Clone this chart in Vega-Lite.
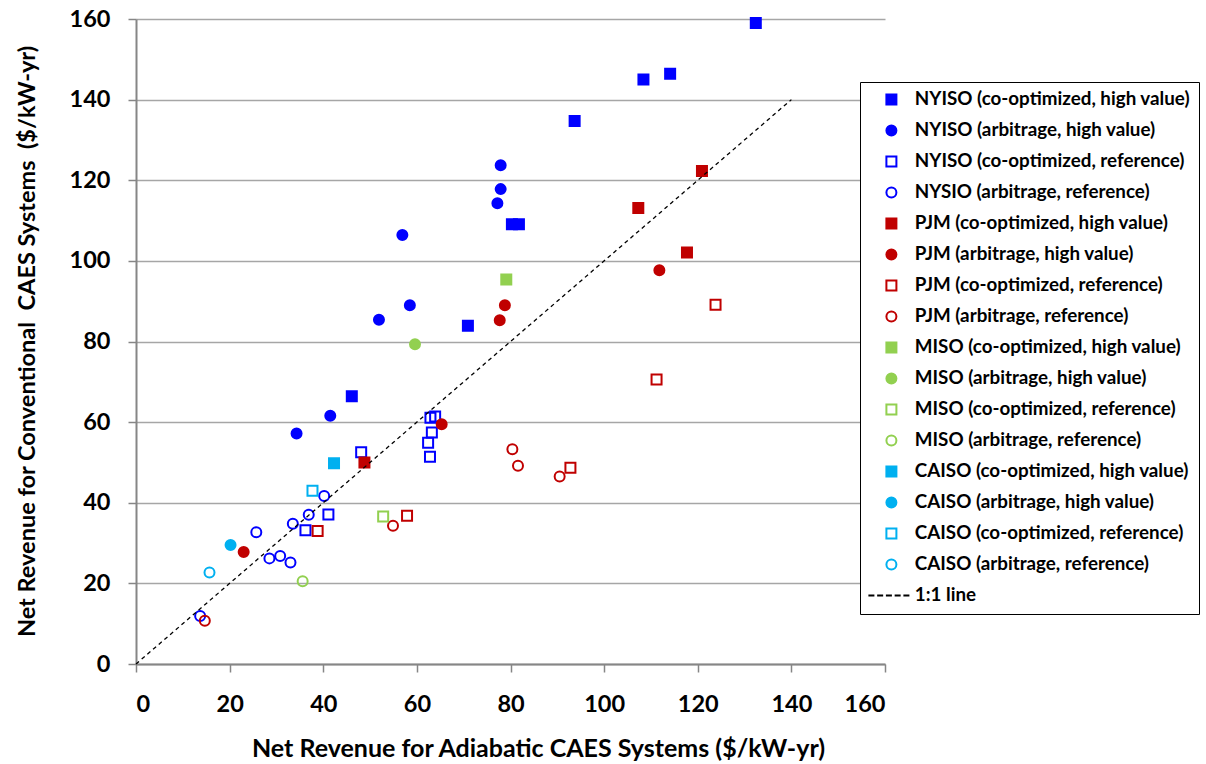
{
  "$schema": "https://vega.github.io/schema/vega-lite/v6.json",
  "width": 749,
  "height": 645,
  "autosize": {"type": "none"},
  "padding": {"left": 136, "top": 19, "right": 321, "bottom": 100},
  "background": "white",
  "config": {
    "font": "Lato",
    "view": {"stroke": null},
    "axis": {
      "labelFont": "Lato",
      "labelFontSize": 23.5,
      "labelFontWeight": "bold",
      "labelColor": "black",
      "titleFont": "Lato",
      "titleFontWeight": "bold",
      "titleColor": "black",
      "domainColor": "#868686",
      "domainWidth": 2,
      "tickColor": "#868686",
      "tickWidth": 1.5,
      "tickSize": 8,
      "gridColor": "#a6a6a6",
      "gridWidth": 1.3
    }
  },
  "datasets": {
    "pts": [
      {"a": 46.1, "c": 66.4, "s": "NYISO (co-optimized, high value)"},
      {"a": 70.9, "c": 83.9, "s": "NYISO (co-optimized, high value)"},
      {"a": 80.3, "c": 109.1, "s": "NYISO (co-optimized, high value)"},
      {"a": 81.8, "c": 109.1, "s": "NYISO (co-optimized, high value)"},
      {"a": 93.7, "c": 134.7, "s": "NYISO (co-optimized, high value)"},
      {"a": 108.4, "c": 145.0, "s": "NYISO (co-optimized, high value)"},
      {"a": 114.1, "c": 146.4, "s": "NYISO (co-optimized, high value)"},
      {"a": 132.4, "c": 159.0, "s": "NYISO (co-optimized, high value)"},
      {"a": 34.3, "c": 57.2, "s": "NYISO (arbitrage, high value)"},
      {"a": 41.5, "c": 61.6, "s": "NYISO (arbitrage, high value)"},
      {"a": 51.9, "c": 85.4, "s": "NYISO (arbitrage, high value)"},
      {"a": 58.5, "c": 89.0, "s": "NYISO (arbitrage, high value)"},
      {"a": 56.9, "c": 106.4, "s": "NYISO (arbitrage, high value)"},
      {"a": 77.2, "c": 114.3, "s": "NYISO (arbitrage, high value)"},
      {"a": 77.9, "c": 117.8, "s": "NYISO (arbitrage, high value)"},
      {"a": 77.9, "c": 123.7, "s": "NYISO (arbitrage, high value)"},
      {"a": 48.1, "c": 52.5, "s": "NYISO (co-optimized, reference)"},
      {"a": 41.1, "c": 37.1, "s": "NYISO (co-optimized, reference)"},
      {"a": 36.2, "c": 33.2, "s": "NYISO (co-optimized, reference)"},
      {"a": 62.9, "c": 61.1, "s": "NYISO (co-optimized, reference)"},
      {"a": 63.9, "c": 61.4, "s": "NYISO (co-optimized, reference)"},
      {"a": 63.2, "c": 57.4, "s": "NYISO (co-optimized, reference)"},
      {"a": 62.4, "c": 54.9, "s": "NYISO (co-optimized, reference)"},
      {"a": 62.8, "c": 51.4, "s": "NYISO (co-optimized, reference)"},
      {"a": 40.2, "c": 41.7, "s": "NYSIO (arbitrage, reference)"},
      {"a": 36.9, "c": 37.0, "s": "NYSIO (arbitrage, reference)"},
      {"a": 33.5, "c": 34.8, "s": "NYSIO (arbitrage, reference)"},
      {"a": 25.7, "c": 32.7, "s": "NYSIO (arbitrage, reference)"},
      {"a": 28.5, "c": 26.2, "s": "NYSIO (arbitrage, reference)"},
      {"a": 30.8, "c": 26.8, "s": "NYSIO (arbitrage, reference)"},
      {"a": 33.0, "c": 25.2, "s": "NYSIO (arbitrage, reference)"},
      {"a": 13.7, "c": 11.9, "s": "NYSIO (arbitrage, reference)"},
      {"a": 48.8, "c": 50.0, "s": "PJM (co-optimized, high value)"},
      {"a": 107.3, "c": 113.1, "s": "PJM (co-optimized, high value)"},
      {"a": 117.7, "c": 102.1, "s": "PJM (co-optimized, high value)"},
      {"a": 120.9, "c": 122.3, "s": "PJM (co-optimized, high value)"},
      {"a": 23.0, "c": 27.8, "s": "PJM (arbitrage, high value)"},
      {"a": 65.3, "c": 59.5, "s": "PJM (arbitrage, high value)"},
      {"a": 77.7, "c": 85.3, "s": "PJM (arbitrage, high value)"},
      {"a": 78.8, "c": 89.0, "s": "PJM (arbitrage, high value)"},
      {"a": 111.8, "c": 97.7, "s": "PJM (arbitrage, high value)"},
      {"a": 38.8, "c": 33.0, "s": "PJM (co-optimized, reference)"},
      {"a": 57.9, "c": 36.8, "s": "PJM (co-optimized, reference)"},
      {"a": 92.8, "c": 48.7, "s": "PJM (co-optimized, reference)"},
      {"a": 111.2, "c": 70.6, "s": "PJM (co-optimized, reference)"},
      {"a": 123.8, "c": 89.1, "s": "PJM (co-optimized, reference)"},
      {"a": 14.7, "c": 10.7, "s": "PJM (arbitrage, reference)"},
      {"a": 54.9, "c": 34.3, "s": "PJM (arbitrage, reference)"},
      {"a": 80.4, "c": 53.3, "s": "PJM (arbitrage, reference)"},
      {"a": 81.6, "c": 49.2, "s": "PJM (arbitrage, reference)"},
      {"a": 90.5, "c": 46.5, "s": "PJM (arbitrage, reference)"},
      {"a": 79.1, "c": 95.4, "s": "MISO (co-optimized, high value)"},
      {"a": 59.6, "c": 79.3, "s": "MISO (arbitrage, high value)"},
      {"a": 52.8, "c": 36.6, "s": "MISO (co-optimized, reference)"},
      {"a": 35.6, "c": 20.5, "s": "MISO (arbitrage, reference)"},
      {"a": 42.3, "c": 49.8, "s": "CAISO (co-optimized, high value)"},
      {"a": 20.2, "c": 29.5, "s": "CAISO (arbitrage, high value)"},
      {"a": 37.7, "c": 43.0, "s": "CAISO (co-optimized, reference)"},
      {"a": 15.7, "c": 22.7, "s": "CAISO (arbitrage, reference)"}
    ],
    "line": [
      {"a": 0, "c": 0},
      {"a": 140, "c": 140}
    ]
  },
  "layer": [
    {
      "data": {"name": "pts"},
      "mark": {"type": "point", "filled": false, "size": 100, "strokeWidth": 2, "opacity": 1, "fillOpacity": 1},
      "encoding": {
        "x": {
          "field": "a", "type": "quantitative",
          "scale": {"domain": [0, 160], "nice": false, "zero": true},
          "axis": {
            "title": "Net Revenue for Adiabatic CAES Systems ($/kW-yr)",
            "values": [0, 20, 40, 60, 80, 100, 120, 140, 160],
            "grid": false,
            "labelPadding": 20,
            "titleFontSize": 25,
            "titleX": 402,
            "titleY": 84,
            "titleAlign": "center",
            "titleBaseline": "middle",
            "titleAnchor": null
          }
        },
        "y": {
          "field": "c", "type": "quantitative",
          "scale": {"domain": [0, 160], "nice": false, "zero": true},
          "axis": {
            "title": "Net Revenue for Conventional\u00a0 CAES Systems\u00a0 ($/kW-yr)",
            "values": [0, 20, 40, 60, 80, 100, 120, 140, 160],
            "grid": true,
            "labelPadding": 18,
            "titleFontSize": 23.5,
            "titleX": -109,
            "titleY": 322,
            "titleAngle": 270,
            "titleAlign": "center",
            "titleBaseline": "middle"
          }
        },
        "stroke": {
          "field": "s", "type": "nominal",
          "scale": {
            "domain": ["NYISO (co-optimized, high value)", "NYISO (arbitrage, high value)", "NYISO (co-optimized, reference)", "NYSIO (arbitrage, reference)", "PJM (co-optimized, high value)", "PJM (arbitrage, high value)", "PJM (co-optimized, reference)", "PJM (arbitrage, reference)", "MISO (co-optimized, high value)", "MISO (arbitrage, high value)", "MISO (co-optimized, reference)", "MISO (arbitrage, reference)", "CAISO (co-optimized, high value)", "CAISO (arbitrage, high value)", "CAISO (co-optimized, reference)", "CAISO (arbitrage, reference)", "1:1 line"],
            "range": ["#0000ff", "#0000ff", "#0000ff", "#0000ff", "#c00000", "#c00000", "#c00000", "#c00000", "#92d050", "#92d050", "#92d050", "#92d050", "#00b0f0", "#00b0f0", "#00b0f0", "#00b0f0", "#000000"]
          },
          "legend": {"title": null, "orient": "none", "legendX": 724, "legendY": 63, "fillColor": "white", "strokeColor": "black", "padding": 8, "symbolOffset": 14, "labelOffset": 14, "labelFont": "Lato", "labelFontSize": 18.8, "labelFontWeight": "bold", "labelColor": "black", "labelLimit": 400, "rowPadding": 11, "symbolSize": 100, "symbolStrokeWidth": 2}
        },
        "fill": {
          "field": "s", "type": "nominal",
          "scale": {
            "domain": ["NYISO (co-optimized, high value)", "NYISO (arbitrage, high value)", "NYISO (co-optimized, reference)", "NYSIO (arbitrage, reference)", "PJM (co-optimized, high value)", "PJM (arbitrage, high value)", "PJM (co-optimized, reference)", "PJM (arbitrage, reference)", "MISO (co-optimized, high value)", "MISO (arbitrage, high value)", "MISO (co-optimized, reference)", "MISO (arbitrage, reference)", "CAISO (co-optimized, high value)", "CAISO (arbitrage, high value)", "CAISO (co-optimized, reference)", "CAISO (arbitrage, reference)", "1:1 line"],
            "range": ["#0000ff", "#0000ff", "transparent", "transparent", "#c00000", "#c00000", "transparent", "transparent", "#92d050", "#92d050", "transparent", "transparent", "#00b0f0", "#00b0f0", "transparent", "transparent", "transparent"]
          },
          "legend": {"title": null, "orient": "none", "legendX": 724, "legendY": 63, "fillColor": "white", "strokeColor": "black", "padding": 8, "symbolOffset": 14, "labelOffset": 14, "labelFont": "Lato", "labelFontSize": 18.8, "labelFontWeight": "bold", "labelColor": "black", "labelLimit": 400, "rowPadding": 11, "symbolSize": 100, "symbolStrokeWidth": 2}
        },
        "shape": {
          "field": "s", "type": "nominal",
          "scale": {
            "domain": ["NYISO (co-optimized, high value)", "NYISO (arbitrage, high value)", "NYISO (co-optimized, reference)", "NYSIO (arbitrage, reference)", "PJM (co-optimized, high value)", "PJM (arbitrage, high value)", "PJM (co-optimized, reference)", "PJM (arbitrage, reference)", "MISO (co-optimized, high value)", "MISO (arbitrage, high value)", "MISO (co-optimized, reference)", "MISO (arbitrage, reference)", "CAISO (co-optimized, high value)", "CAISO (arbitrage, high value)", "CAISO (co-optimized, reference)", "CAISO (arbitrage, reference)", "1:1 line"],
            "range": ["square", "circle", "square", "circle", "square", "circle", "square", "circle", "square", "circle", "square", "circle", "square", "circle", "square", "circle", "M-4.6,0H-3.4M-2.85,0H-1.65M-1.1,0H0.1M0.65,0H1.85M2.4,0H3.6"]
          },
          "legend": {"title": null, "orient": "none", "legendX": 724, "legendY": 63, "fillColor": "white", "strokeColor": "black", "padding": 8, "symbolOffset": 14, "labelOffset": 14, "labelFont": "Lato", "labelFontSize": 18.8, "labelFontWeight": "bold", "labelColor": "black", "labelLimit": 400, "rowPadding": 11, "symbolSize": 100, "symbolStrokeWidth": 2}
        }
      }
    },
    {
      "data": {"name": "line"},
      "mark": {"type": "line", "color": "black", "strokeWidth": 1.3, "strokeDash": [4, 3.5]},
      "encoding": {
        "x": {"field": "a", "type": "quantitative"},
        "y": {"field": "c", "type": "quantitative"}
      }
    }
  ]
}
